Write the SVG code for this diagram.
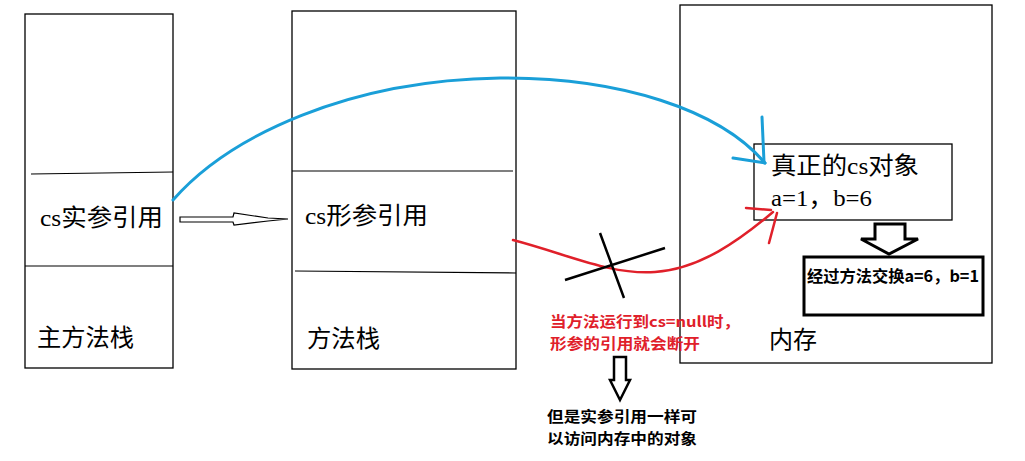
<svg xmlns="http://www.w3.org/2000/svg" width="1025" height="461" viewBox="0 0 1025 461">
<style>
.box{fill:none;stroke:#000;stroke-width:1.3}
.line{stroke:#000;stroke-width:1.2}
.big{font-family:"Liberation Serif","Noto Sans CJK SC",serif;font-size:24px;fill:#000}
.red{font-family:"Noto Sans CJK SC",sans-serif;font-size:14.5px;font-weight:bold;fill:#e0202a}
.note{font-family:"Noto Sans CJK SC",sans-serif;font-size:14.5px;font-weight:bold;fill:#000}
.swap{font-family:"Noto Sans CJK SC",sans-serif;font-size:16px;font-weight:bold;fill:#000}
.blue{fill:none;stroke:#1a9fd8;stroke-width:3;stroke-linecap:round}
.redl{fill:none;stroke:#e0202a;stroke-width:2.5;stroke-linecap:round}
.hollow{fill:#fff;stroke:#000;stroke-linejoin:miter}
</style>
<rect width="1025" height="461" fill="#fff"/>
<g id="main-stack">
<rect class="box" x="25" y="14" width="148" height="354"/>
<line class="line" x1="31" y1="174" x2="173" y2="172"/>
<line class="line" x1="25" y1="266" x2="173" y2="266"/>
<text class="big" x="40" y="226" textLength="123" lengthAdjust="spacingAndGlyphs">cs实参引用</text>
<text class="big" x="37" y="346" textLength="97" lengthAdjust="spacingAndGlyphs">主方法栈</text>
</g>
<g id="method-stack">
<rect class="box" x="292" y="11" width="224" height="358"/>
<line class="line" x1="292" y1="171" x2="513" y2="171"/>
<line class="line" x1="295" y1="271" x2="516" y2="273"/>
<text class="big" x="305" y="224" textLength="123" lengthAdjust="spacingAndGlyphs">cs形参引用</text>
<text class="big" x="307" y="347" textLength="73" lengthAdjust="spacingAndGlyphs">方法栈</text>
</g>
<g id="memory">
<rect class="box" x="680" y="5" width="312" height="358"/>
<text class="big" x="769" y="348" textLength="48" lengthAdjust="spacingAndGlyphs">内存</text>
</g>
<g id="object">
<rect class="box" x="754" y="144" width="198" height="76"/>
<text class="big" x="771" y="174" textLength="148" lengthAdjust="spacingAndGlyphs">真正的cs对象</text>
<text class="big" x="771" y="206" textLength="101" lengthAdjust="spacingAndGlyphs">a=1，b=6</text>
</g>
<g id="swapped">
<rect x="804" y="257" width="179" height="58" fill="none" stroke="#000" stroke-width="3"/>
<text class="swap" x="807" y="282" textLength="172" lengthAdjust="spacingAndGlyphs">经过方法交换a=6，b=1</text>
</g>
<g id="break-note">
<text class="red" x="550" y="327" textLength="190" lengthAdjust="spacingAndGlyphs">当方法运行到cs=null时，</text>
<text class="red" x="550" y="349" textLength="150" lengthAdjust="spacingAndGlyphs">形参的引用就会断开</text>
</g>
<g id="result-note">
<text class="note" x="547" y="422" textLength="150" lengthAdjust="spacingAndGlyphs">但是实参引用一样可</text>
<text class="note" x="547" y="444" textLength="150" lengthAdjust="spacingAndGlyphs">以访问内存中的对象</text>
</g>
<g id="connectors">
<path class="blue" d="M173,200 C230,135 350,80 500,78 C620,77 720,110 765,163"/>
<path class="blue" d="M733,158 L765,163 M762,117 L764,162"/>
<path class="redl" d="M513,240 C570,255 610,275 655,272 C700,269 740,240 773,212"/>
<path class="redl" d="M746,208 L771,210 M769,243 L777,213"/>
<polygon class="hollow" stroke-width="1.2" points="180,217 233,217 234,213 268,218 288,219 268,221 234,225 233,222 180,222"/>
<polygon class="hollow" stroke-width="3" points="875,224 905,224 905,239 918,239 889,254 861,239 875,239"/>
<polygon class="hollow" stroke-width="2.5" points="614,357 626,357 626,380 630,380 620,400 610,380 614,380"/>
<path d="M600,233 L624,298 M565,280 L665,248" stroke="#000" stroke-width="2.5" fill="none"/>
</g>
</svg>
